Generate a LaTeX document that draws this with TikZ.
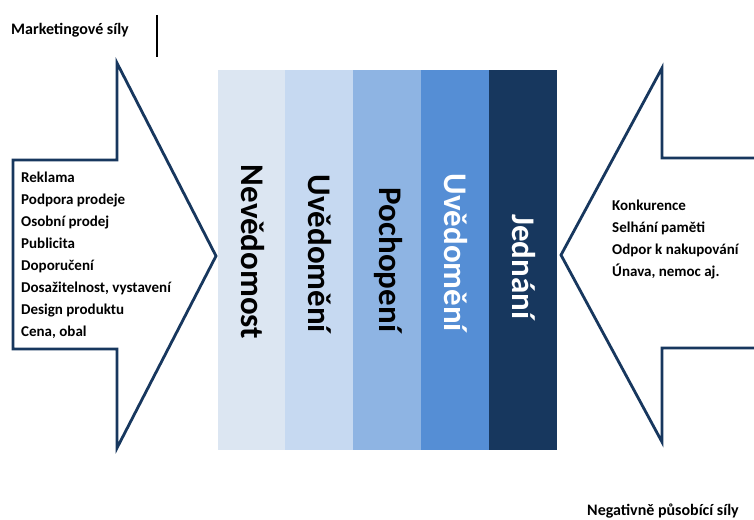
\documentclass[tikz,border=0pt]{standalone}
\usepackage{fontspec}
\setmainfont{Carlito}
\definecolor{navy}{RGB}{23,55,94}
\definecolor{cA}{RGB}{220,230,242}
\definecolor{cB}{RGB}{198,217,241}
\definecolor{cC}{RGB}{142,180,227}
\definecolor{cD}{RGB}{85,142,213}
\definecolor{cE}{RGB}{23,55,94}
\begin{document}
\begin{tikzpicture}[x=1pt,y=-1pt,
  bar/.style={minimum width=68pt,minimum height=380pt,inner sep=0pt},
  bartxt/.style={rotate=-90,inner sep=0pt,font=\fontsize{33}{33}\selectfont\bfseries},
  arrowshape/.style={draw=navy,line width=2.8pt,fill=white,line join=miter},
  lst/.style={align=left,inner sep=0pt,font=\fontsize{15}{22}\selectfont\bfseries},
  captxt/.style={inner sep=0pt,font=\fontsize{16}{18}\selectfont\bfseries}]
\useasboundingbox (0,0) rectangle (754,519);
\fill[white] (0,0) rectangle (754,519);
% arrows
\draw[arrowshape] (13,160) -- (117,160) -- (117,63) -- (216,256) -- (117,448) -- (117,349) -- (13,349) -- cycle;
\filldraw[arrowshape] (756,158) -- (662,158) -- (662,68) -- (561,255) -- (662,442) -- (662,348) -- (756,348);
% bars
\node[bar,fill=cA] (b1) at (251.5,260) {};
\node[bar,fill=cB] (b2) at (319,260) {};
\node[bar,fill=cC] (b3) at (387,260) {};
\node[bar,fill=cD] (b4) at (454.5,260) {};
\node[bar,fill=cE] (b5) at (522.5,260) {};
\node[bartxt] (t1) at (253,252) {Nevědomost};
\node[bartxt] (t2) at (320,254) {Uvědomění};
\node[bartxt] (t3) at (388,260) {Pochopení};
\node[bartxt,text=white] (t4) at (455.5,253) {Uvědomění};
\node[bartxt,text=white] (t5) at (523.5,267) {Jednání};
% lists
\node[lst,anchor=north west] (left) at (21,172) {Reklama\\Podpora prodeje\\Osobní prodej\\Publicita\\Doporučení\\Dosažitelnost, vystavení\\Design produktu\\Cena, obal};
\node[lst,anchor=north west] (right) at (612,200) {Konkurence\\Selhání paměti\\Odpor k nakupování\\Únava, nemoc aj.};
% captions
\node[captxt,anchor=west] (mk) at (11,30) {Marketingové síly};
\coordinate (lt) at (157,15);
\coordinate (lb) at (157,57);
\draw[line width=1.2pt] (lt) -- (lb);
\node[captxt,anchor=west] (neg) at (587,511) {Negativně působící síly};
\end{tikzpicture}
\end{document}
